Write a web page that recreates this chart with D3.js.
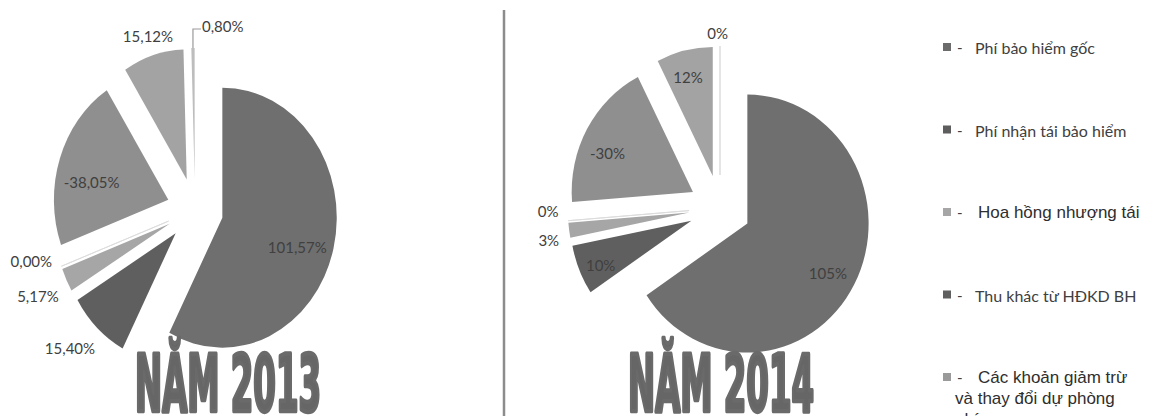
<!DOCTYPE html>
<meta charset="utf-8">
<script src="https://d3js.org/d3.v7.min.js"></script>
<style>
  body { margin: 0; background: #fff; }
  svg { display: block; }
</style>
<body>
<div id="chart"></div>
<script>
  // data
  const legendNames = ["Phí bảo hiểm gốc", "Phí nhận tái bảo hiểm", "Hoa hồng nhượng tái",
                       "Thu khác từ HĐKD BH", "Các khoản giảm trừ|và thay đổi dự phòng|phí"];
  const values2013 = [101.57, 15.40, 5.17, 0.00, -38.05, 15.12, 0.80];
  const values2014 = [105, 10, 3, 0, -30, 12, 0];
  const years = ["NĂM 2013", "NĂM 2014"];

  const colors = ["#6f6f6f", "#5f5f5f", "#a6a6a6", "#7c7c7c", "#8f8f8f", "#a3a3a3", "#bdbdbd"];
  const legendColors = ["#6b6b6b", "#5d5d5d", "#a6a6a6", "#5f5f5f", "#9a9a9a"];

  const width = 1156, height = 416;
  const svg = d3.select("#chart").append("svg")
      .attr("width", width).attr("height", height);

  // hyphen instead of unicode minus, comma as decimal mark
  const pct = digits => v => d3.format("." + digits + "f")(v).replace("−", "-").replace(".", ",") + "%";

  // layout for each pie (label radius / angle nudge per slice)
  const pies = [
    {values: values2013, title: years[0], cx: 195, cy: 210, r: 130, sx: 0.88, explode: 32, titleX: 228,
     fmt: pct(2),
     labelR: [90, 166, 166, 161, 89, 150, 0], labelDa: [5, 3, 0, 6, -7, 0, 0], leader: 6},
    {values: values2014, title: years[1], cx: 720, cy: 208, r: 129, sx: 0.94, explode: 33, titleX: 721,
     fmt: pct(0),
     labelR: [99, 106, 152, 150, 99, 102, 142], labelDa: [2, -2, -2.5, 4.5, -6, -1.5, -1], leader: -1}
  ];

  const rad = a => a * Math.PI / 180;

  pies.forEach(p => {
    const arcs = d3.pie().sort(null).value(d => Math.abs(d))(p.values);
    const arc = d3.arc().innerRadius(0).outerRadius(p.r);
    const g = svg.append("g").attr("transform", `translate(${p.cx},${p.cy})`);

    // exploded vertex of a slice (x squashed like the source)
    const vertex = d => {
      const m = (d.startAngle + d.endAngle) / 2;
      return [Math.sin(m) * p.explode * p.sx, -Math.cos(m) * p.explode];
    };

    g.selectAll("path.slice")
      .data(arcs)
      .join("path")
        .attr("class", "slice")
        .attr("transform", d => { const v = vertex(d); return `translate(${v[0]},${v[1]}) scale(${p.sx},1)`; })
        .attr("d", arc)
        .attr("fill", (d, i) => colors[i])
        .attr("stroke", d => d.value === 0 ? "#dcdcdc" : "none")
        .attr("stroke-width", 1);

    // labels
    arcs.forEach((d, i) => {
      const v = vertex(d);
      const m = (d.startAngle + d.endAngle) / 2;
      if (i === p.leader) {
        const top = [v[0] + Math.sin(m) * p.r * p.sx, v[1] - Math.cos(m) * p.r];
        const cy = top[1] - 19;
        g.append("path")
          .attr("d", `M${top[0]},${top[1]}V${cy}H${top[0] + 8}`)
          .attr("fill", "none").attr("stroke", "#9a9a9a").attr("stroke-width", 1.2);
        g.append("text")
          .attr("x", top[0] + 9).attr("y", cy - 3)
          .attr("text-anchor", "start").attr("dominant-baseline", "central")
          .attr("font-family", "Lato, 'Open Sans', sans-serif").attr("font-size", 15)
          .attr("fill", "#404040")
          .text(p.fmt(p.values[i]));
        return;
      }
      const a = m + rad(p.labelDa[i]);
      g.append("text")
        .attr("x", v[0] + Math.sin(a) * p.labelR[i] * p.sx)
        .attr("y", v[1] - Math.cos(a) * p.labelR[i])
        .attr("text-anchor", "middle").attr("dominant-baseline", "central")
        .attr("font-family", "Lato, 'Open Sans', sans-serif").attr("font-size", 15)
        .attr("fill", "#404040")
        .text(p.fmt(p.values[i]));
    });

    // big condensed title
    svg.append("text")
      .attr("x", p.titleX).attr("y", 411)
      .attr("text-anchor", "middle")
      .attr("font-family", "'DejaVu Sans Condensed', 'DejaVu Sans', sans-serif")
      .attr("font-weight", "bold").attr("font-size", 78)
      .attr("textLength", 186).attr("lengthAdjust", "spacingAndGlyphs")
      .attr("fill", "#666").attr("stroke", "#6a6a6a").attr("stroke-width", 4.5)
      .attr("stroke-linejoin", "round")
      .text(p.title);
  });

  // divider
  svg.append("line")
    .attr("x1", 504).attr("x2", 504).attr("y1", 10).attr("y2", height)
    .attr("stroke", "#8c8c8c").attr("stroke-width", 2.5);

  // legend
  const legendY = d3.scaleLinear().domain([0, 4]).range([47, 377]);
  const lg = svg.append("g").selectAll("g")
    .data(legendNames)
    .join("g")
      .attr("transform", (d, i) => `translate(943,${legendY(i)})`);

  lg.append("rect")
    .attr("x", 0).attr("y", -4).attr("width", 8).attr("height", 8)
    .attr("fill", (d, i) => legendColors[i]);

  lg.append("text")
    .attr("x", 14).attr("y", 0).attr("dominant-baseline", "central")
    .attr("font-family", "Lato, sans-serif").attr("font-size", 15).attr("fill", "#404040")
    .text("-");

  lg.each(function(d, i) {
    const arial = (i === 2 || i === 4);
    const t = d3.select(this).append("text")
      .attr("font-family", arial ? "'Liberation Sans', Arial, sans-serif" : "Lato, sans-serif")
      .attr("font-size", arial ? 17 : 16)
      .attr("fill", arial ? "#2e2e2e" : "#404040")
      .attr("dominant-baseline", "central");
    d.split("|").forEach((line, k) => {
      t.append("tspan")
        .attr("x", k === 0 ? (arial ? 35 : 32) : 12)
        .attr("y", k * 21)
        .text(line);
    });
  });
</script>
</body>
